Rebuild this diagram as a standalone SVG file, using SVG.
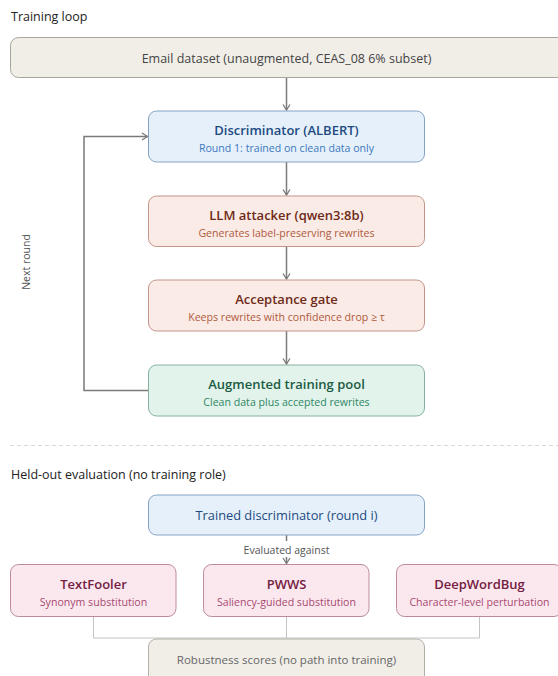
<svg xmlns="http://www.w3.org/2000/svg" width="558" height="676" viewBox="0 0 558 676">
<style>
text{font-family:"Open Sans","Noto Sans","Liberation Sans",sans-serif;}
.h{font-size:12.5px;fill:#222;}
.t{font-size:13px;font-weight:600;text-anchor:middle;}
.s{font-size:10.6px;text-anchor:middle;}
.lbl{font-size:10.5px;fill:#555;}
.gray rect{fill:#f1eee8;stroke:#a9a59d;}
.blue rect{fill:#e5f0fb;stroke:#84a3c3;}
.blue .t{fill:#1d4a80;} .blue .s{fill:#3d78bd;}
.red rect{fill:#faebe6;stroke:#c2958a;}
.red .t{fill:#6e2a18;} .red .s{fill:#b05a40;}
.green rect{fill:#e2f3ec;stroke:#86b09f;}
.green .t{fill:#1b5c43;} .green .s{fill:#2f8663;}
.pink rect{fill:#fbe8ef;stroke:#bb8a9d;}
.pink .t{fill:#74203f;} .pink .s{fill:#a84a70;}
.conn{fill:none;stroke:#7a7a78;stroke-width:1.5;}
.thin{fill:none;stroke:#c4c4c4;stroke-width:1;}
</style>
<defs>
<marker id="arr" markerWidth="10" markerHeight="10" refX="8" refY="5" orient="auto" markerUnits="userSpaceOnUse">
<path d="M2.5,1.5 L8,5 L2.5,8.5" fill="none" stroke="#7a7a78" stroke-width="1.3"/>
</marker>
</defs>
<rect width="558" height="676" fill="#ffffff"/>
<text class="h" x="11" y="21">Training loop</text>
<text class="h" x="11" y="479">Held-out evaluation (no training role)</text>
<line x1="10" y1="445.5" x2="558" y2="445.5" stroke="#d9d9d9" stroke-width="1" stroke-dasharray="4,3"/>

<g id="connectors">
<path class="conn" d="M286.5,78 V110" marker-end="url(#arr)"/>
<path class="conn" d="M286.5,162 V195" marker-end="url(#arr)"/>
<path class="conn" d="M286.5,247 V279" marker-end="url(#arr)"/>
<path class="conn" d="M286.5,331 V364" marker-end="url(#arr)"/>
<path class="conn" d="M148.5,390.5 H84 V136.5 H147.5" marker-end="url(#arr)"/>
<path class="conn" d="M286.5,535 V541" stroke-width="1"/>
<path class="conn" d="M286.5,557 V563.5" stroke-width="1" marker-end="url(#arr)"/>
<path class="thin" d="M93.5,617 V638 H286.5"/>
<path class="thin" d="M479.5,617 V638 H286.5"/>
<path class="thin" d="M286.5,617 V639"/>
<text class="lbl" x="286.5" y="554" text-anchor="middle">Evaluated against</text>
<text class="lbl" x="30" y="262" text-anchor="middle" transform="rotate(-90 30 262)">Next round</text>
</g>

<g id="email" class="gray">
<rect x="10.5" y="37.5" width="560" height="40" rx="8"/>
<text x="286.5" y="63" text-anchor="middle" font-size="12.5" fill="#444">Email dataset (unaugmented, CEAS_08 6% subset)</text>
</g>
<g id="discriminator" class="blue">
<rect x="148.5" y="111" width="276" height="51" rx="8"/>
<text class="t" x="286.5" y="135">Discriminator (ALBERT)</text>
<text class="s" x="286.5" y="152">Round 1: trained on clean data only</text>
</g>
<g id="attacker" class="red">
<rect x="148.5" y="196" width="276" height="50.5" rx="8"/>
<text class="t" x="286.5" y="220">LLM attacker (qwen3:8b)</text>
<text class="s" x="286.5" y="237">Generates label-preserving rewrites</text>
</g>
<g id="gate" class="red">
<rect x="148.5" y="280" width="276" height="51" rx="8"/>
<text class="t" x="286.5" y="304">Acceptance gate</text>
<text class="s" x="286.5" y="321">Keeps rewrites with confidence drop ≥ τ</text>
</g>
<g id="pool" class="green">
<rect x="148.5" y="365" width="276" height="51" rx="8"/>
<text class="t" x="286.5" y="389">Augmented training pool</text>
<text class="s" x="286.5" y="406">Clean data plus accepted rewrites</text>
</g>

<g id="trained" class="blue">
<rect x="148.5" y="495" width="276" height="40" rx="8"/>
<text x="286.5" y="520" text-anchor="middle" font-size="12.8" fill="#1d4a80">Trained discriminator (round i)</text>
</g>
<g id="textfooler" class="pink">
<rect x="10.5" y="564.5" width="165.5" height="52" rx="8"/>
<text class="t" x="93.5" y="589">TextFooler</text>
<text class="s" x="93.5" y="606">Synonym substitution</text>
</g>
<g id="pwws" class="pink">
<rect x="203.5" y="564.5" width="165.5" height="52" rx="8"/>
<text class="t" x="286.5" y="589">PWWS</text>
<text class="s" x="286.5" y="606">Saliency-guided substitution</text>
</g>
<g id="deepwordbug" class="pink">
<rect x="396.5" y="564.5" width="165.5" height="52" rx="8"/>
<text class="t" x="479.5" y="589">DeepWordBug</text>
<text class="s" x="479.5" y="606">Character-level perturbation</text>
</g>
<g id="robustness" class="gray">
<rect x="148.5" y="639" width="276" height="50" rx="8" style="stroke:#b3afa7"/>
<text x="286.5" y="664" text-anchor="middle" font-size="11.5" fill="#666">Robustness scores (no path into training)</text>
</g>
</svg>
